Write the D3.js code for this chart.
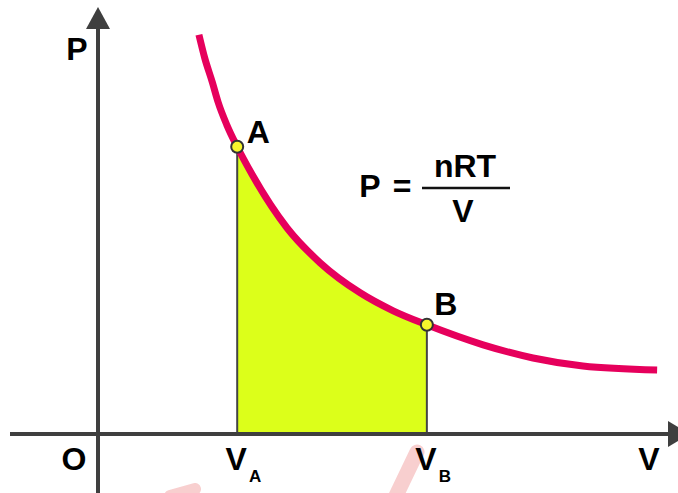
<!DOCTYPE html>
<html>
<head>
<meta charset="utf-8">
<script src="https://cdn.jsdelivr.net/npm/d3@7"></script>
<style>
  body { margin: 0; background: #fff; }
  svg { display: block; }
</style>
</head>
<body>
<div id="chart"></div>
<script>
// isotherm P = nRT / V (arbitrary units)
var volume   = [1.74, 1.84, 1.97, 2.07, 2.22, 2.40, 2.66, 3.26, 3.83, 4.52, 5.09, 5.67, 6.64, 7.50, 8.36, 9.64];
var pressure = [9.98, 9.40, 8.80, 8.30, 7.73, 7.18, 6.48, 5.15, 4.28, 3.53, 3.08, 2.73, 2.23, 1.90, 1.70, 1.60];

// the two marked states
var stateNames    = ["A", "B"];
var stateVolume   = [2.40, 5.67];
var statePressure = [7.18, 2.73];
var stateSubs     = ["A", "B"];

var width = 678, height = 493;

var svg = d3.select("#chart").append("svg")
  .attr("width", width)
  .attr("height", height)
  .style("font-family", "'Liberation Sans', Arial, sans-serif")
  .style("font-weight", "bold");

// scales: origin sits at (98, 434)
var x = d3.scaleLinear().domain([0, 10]).range([98, 678]);
var y = d3.scaleLinear().domain([0, 10]).range([434, 34]);

var data = volume.map(function(v, i) { return { v: v, p: pressure[i] }; });
var under = data.filter(function(d) {
  return d.v >= stateVolume[0] && d.v <= stateVolume[1];
});

var axisColor = "#3f3f3f";

// faint watermark strokes near the bottom
svg.append("path")
  .attr("d", "M417,452 L394,500")
  .attr("stroke", "#f7c4c4").attr("stroke-width", 15)
  .attr("stroke-linecap", "round").attr("opacity", 0.8);
svg.append("path")
  .attr("d", "M170,496 L195,489")
  .attr("stroke", "#f7c4c4").attr("stroke-width", 12)
  .attr("stroke-linecap", "round").attr("opacity", 0.8);

// work done: area under the curve between VA and VB
var area = d3.area()
  .x(function(d) { return x(d.v); })
  .y0(y(0))
  .y1(function(d) { return y(d.p); })
  .curve(d3.curveMonotoneX);

svg.append("path")
  .datum(under)
  .attr("fill", "#dcff1a")
  .attr("d", area);

// vertical drop lines
stateVolume.forEach(function(v, i) {
  svg.append("line")
    .attr("x1", x(v)).attr("x2", x(v))
    .attr("y1", y(statePressure[i])).attr("y2", y(0))
    .attr("stroke", "#444").attr("stroke-width", 2);
});

// axes with arrow heads
svg.append("line")
  .attr("x1", 10).attr("x2", 670)
  .attr("y1", y(0)).attr("y2", y(0))
  .attr("stroke", axisColor).attr("stroke-width", 4);
svg.append("path")
  .attr("d", "M668," + (y(0) - 13) + " L690," + y(0) + " L668," + (y(0) + 13) + " Z")
  .attr("fill", axisColor);

svg.append("line")
  .attr("x1", x(0)).attr("x2", x(0))
  .attr("y1", height).attr("y2", 28)
  .attr("stroke", axisColor).attr("stroke-width", 4);
svg.append("path")
  .attr("d", "M" + (x(0) - 12) + ",29 L" + x(0) + ",7 L" + (x(0) + 12) + ",29 Z")
  .attr("fill", axisColor);

// isotherm curve
var line = d3.line()
  .x(function(d) { return x(d.v); })
  .y(function(d) { return y(d.p); })
  .curve(d3.curveMonotoneX);

svg.append("path")
  .datum(data)
  .attr("fill", "none")
  .attr("stroke", "#e6005c")
  .attr("stroke-width", 7)
  .attr("d", line);

// state points and labels
var labelOffset = [[21, -4], [19, -10]];
stateVolume.forEach(function(v, i) {
  svg.append("circle")
    .attr("cx", x(v)).attr("cy", y(statePressure[i]))
    .attr("r", 6)
    .attr("fill", "#f6f62c")
    .attr("stroke", "#333").attr("stroke-width", 2);
  svg.append("text")
    .attr("x", x(v) + labelOffset[i][0])
    .attr("y", y(statePressure[i]) + labelOffset[i][1])
    .attr("text-anchor", "middle")
    .attr("font-size", 32)
    .text(stateNames[i]);
});

// axis labels
svg.append("text").attr("x", 77).attr("y", 60)
  .attr("text-anchor", "middle").attr("font-size", 32).text("P");
svg.append("text").attr("x", x(0) - 24).attr("y", 470)
  .attr("text-anchor", "middle").attr("font-size", 32).text("O");
svg.append("text").attr("x", 649).attr("y", 470)
  .attr("text-anchor", "middle").attr("font-size", 32).text("V");

stateVolume.forEach(function(v, i) {
  svg.append("text").attr("x", x(v) - 1).attr("y", 470)
    .attr("text-anchor", "middle").attr("font-size", 32).text("V");
  svg.append("text").attr("x", x(v) + 18).attr("y", 482)
    .attr("text-anchor", "middle").attr("font-size", 17).text(stateSubs[i]);
});

// formula P = nRT / V
svg.append("text").attr("x", 370).attr("y", 197)
  .attr("text-anchor", "middle").attr("font-size", 32).text("P");
svg.append("text").attr("x", 402).attr("y", 197)
  .attr("text-anchor", "middle").attr("font-size", 32).text("=");
svg.append("text").attr("x", 465).attr("y", 177)
  .attr("text-anchor", "middle").attr("font-size", 32).text("nRT");
svg.append("line")
  .attr("x1", 422).attr("x2", 510)
  .attr("y1", 188).attr("y2", 188)
  .attr("stroke", "#111").attr("stroke-width", 2.5);
svg.append("text").attr("x", 463).attr("y", 222)
  .attr("text-anchor", "middle").attr("font-size", 32).text("V");
</script>
</body>
</html>
